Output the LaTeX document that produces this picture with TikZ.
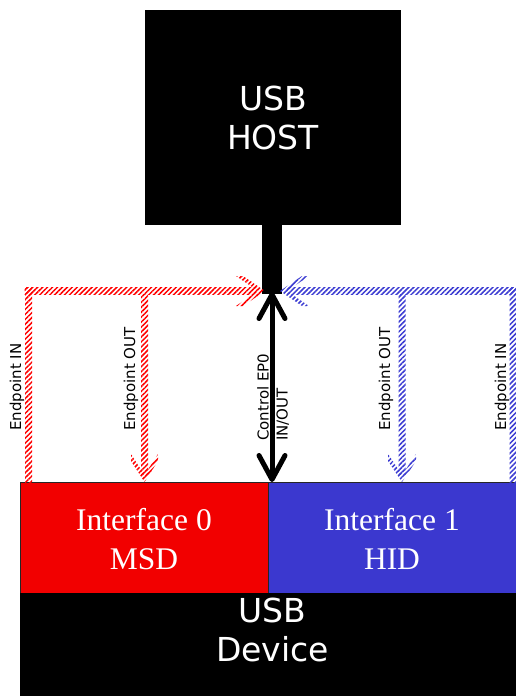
\documentclass[tikz,border=0pt]{standalone}
\usepackage{fontspec}
\setmainfont{Liberation Serif}
\newfontfamily\dvs{DejaVu Sans}
\usetikzlibrary{arrows.meta,patterns.meta,calc}
\definecolor{ifred}{RGB}{242,0,0}
\definecolor{ifblue}{RGB}{59,56,207}
\definecolor{hred}{RGB}{255,0,0}
\definecolor{hblue}{RGB}{60,60,210}
\begin{document}
\begin{tikzpicture}[x=1pt,y=-1pt,
  blk/.style={fill=black, draw=none, inner sep=0, text=white, font=\dvs\fontsize{33}{39}\selectfont, align=center},
  iface/.style={draw=black!85, line width=0.8pt, inner sep=0, minimum width=248pt, minimum height=111pt},
  itext/.style={inner sep=0, text=white, font=\fontsize{31.5}{39}\selectfont, align=center},
  lbl/.style={rotate=90, anchor=west, inner sep=0, font=\dvs\fontsize{15}{19}\selectfont, align=left},
  hatchR/.style={pattern={Lines[angle=45,distance=3.5pt,line width=1.5pt]}, pattern color=hred},
  hatchB/.style={pattern={Lines[angle=45,distance=3.5pt,line width=1.5pt]}, pattern color=hblue},
  ctrl/.style={line width=5pt, {Straight Barb[length=24pt,width=26pt,round]}-{Straight Barb[length=24pt,width=26pt,round]}}
]
\useasboundingbox (0,0) rectangle (516,696);
\fill[white] (0,0) rectangle (516,696);

% host
\node[blk, minimum width=256pt, minimum height=215pt] (host) at (273,117.5) {USB\\HOST};
\node[fill=black, inner sep=0, minimum width=20pt, minimum height=70pt, anchor=north] (stem) at (272,224) {};

% interfaces and device
\node[iface, fill=ifred] (if0) at (144,537.5) {};
\node[itext] (if0txt) at ($(if0.center)+(0,1.5)$) {Interface 0\\MSD};
\node[iface, fill=ifblue] (if1) at (392,537.5) {};
\node[itext] (if1txt) at ($(if1.center)+(0,1.5)$) {Interface 1\\HID};
\node[fill=black, inner sep=0, minimum width=496pt, minimum height=103pt, anchor=north west] (dev) at (20,593) {};
\node[blk, anchor=north] (devtxt) at (272.5,597.5) {USB\\Device};

% red hatched connectors (interface 0)
\fill[hatchR] (24.5,287.5) rectangle (257,294.5);
\fill[hatchR] (25,287.5) rectangle (32,482);
\fill[hatchR] (141,294.5) rectangle (148,474);
\fill[hatchR] (236,276) -- (243,276) -- (265,291) -- (243,306) -- (236,306) -- (258,291) -- cycle;
\fill[hatchR] (131,454) -- (144.5,475) -- (158,454) -- (158,461) -- (144.5,482) -- (131,461) -- cycle;

% blue hatched connectors (interface 1)
\fill[hatchB] (287,287.5) rectangle (516.5,294.5);
\fill[hatchB] (509.5,287.5) rectangle (516.5,482);
\fill[hatchB] (398.5,294.5) rectangle (405.5,474);
\fill[hatchB] (309,276) -- (302,276) -- (280,291) -- (302,306) -- (309,306) -- (287,291) -- cycle;
\fill[hatchB] (388,454) -- (402,475) -- (416,454) -- (416,461) -- (402,482) -- (388,461) -- cycle;

% control endpoint
\coordinate (ctop) at (272,292);
\coordinate (cbot) at (272,482);
\draw[ctrl] (ctop) -- (cbot);

% labels
\node[lbl] (l1) at (17,431) {Endpoint IN};
\node[lbl] (l2) at (131,431) {Endpoint OUT};
\node[lbl] (l3) at (273,441) {Control EP0\\IN/OUT};
\node[lbl] (l4) at (386,431) {Endpoint OUT};
\node[lbl] (l5) at (502,431) {Endpoint IN};
\end{tikzpicture}
\end{document}
